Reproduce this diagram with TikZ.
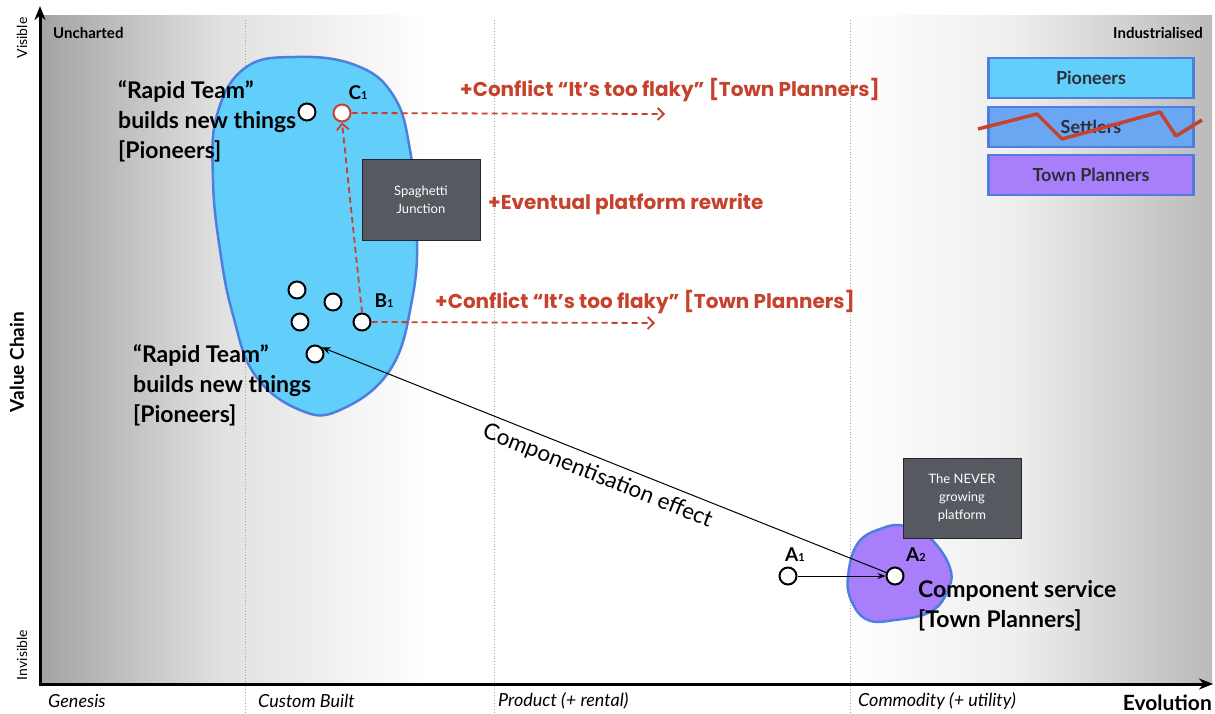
\documentclass[tikz,border=0pt]{standalone}
\usepackage{fontspec}
\setmainfont{Lato}
\newfontfamily\handfont{Poppins}
\usetikzlibrary{arrows.meta,positioning,calc}
\definecolor{pioneerblue}{RGB}{98,207,251}
\definecolor{settlerblue}{RGB}{106,166,242}
\definecolor{plannerpurple}{RGB}{168,126,250}
\definecolor{blobedge}{RGB}{77,127,224}
\definecolor{flakyred}{RGB}{198,66,44}
\definecolor{boxgray}{RGB}{86,89,95}
\definecolor{legendtext}{RGB}{45,45,60}

\begin{document}
\begin{tikzpicture}[x=1pt, y=-1pt,
    dot/.style={circle, draw=black, fill=white, line width=2pt, minimum size=17pt, inner sep=0pt},
    reddot/.style={dot, draw=flakyred},
    tag/.style={font=\bfseries\fontsize{19}{19}\selectfont, inner sep=1pt},
    conflict/.style={draw=flakyred, line width=1.8pt, dash pattern=on 6pt off 4pt, -{Straight Barb[length=6pt,width=12pt]}},
    flaky/.style={text=flakyred, font=\handfont\bfseries\fontsize{20}{22}\selectfont, inner sep=0pt, anchor=west},
    darkbox/.style={draw=black!85, line width=1pt, fill=boxgray, text=white, align=center, font=\fontsize{13}{18}\selectfont},
    teamtext/.style={align=left, anchor=north west, font=\bfseries\fontsize{23}{30}\selectfont, inner sep=0pt},
    legendbox/.style={draw=blobedge, line width=2.2pt, minimum width=205pt, minimum height=40pt, text=legendtext, font=\bfseries\fontsize{18}{20}\selectfont},
    stage/.style={font=\itshape\fontsize{18}{18}\selectfont, anchor=west, inner sep=0pt},
    guide/.style={draw=black!35, dotted, line width=0.8pt}
  ]
  \useasboundingbox (0,0) rectangle (1215,713);
  % Map background (shaded edges)
  \shade[left color=black!36, right color=black!12] (40,15) rectangle (220,684);
  \shade[left color=black!12, right color=white] (220,15) rectangle (430,684);
  \shade[left color=white, right color=black!7] (850,15) rectangle (1020,684);
  \shade[left color=black!7, right color=black!27] (1020,15) rectangle (1212,684);
  % Evolution stage guides
  \foreach \gx in {245,494,850} \draw[guide] (\gx,20) -- (\gx,713);
  % Axes
  \draw[line width=3pt, -{Stealth[length=14pt,width=11pt]}] (40,686) -- (40,6);
  \draw[line width=3pt, -{Stealth[length=14pt,width=11pt]}] (39,684) -- (1213,684);
  \node[rotate=90, font=\fontsize{14}{14}\selectfont] (visible) at (22,38) {Visible};
  \node[rotate=90, font=\fontsize{14}{14}\selectfont] (invisible) at (22,655) {Invisible};
  \node[rotate=90, font=\bfseries\fontsize{19}{20}\selectfont] (valuechain) at (17,362) {Value Chain};
  \node[anchor=west, font=\bfseries\fontsize{15}{15}\selectfont, inner sep=0pt] (uncharted) at (53,33) {Uncharted};
  \node[anchor=east, font=\bfseries\fontsize{15}{15}\selectfont, inner sep=0pt] (industrial) at (1203,33) {Industrialised};
  \node[stage] (genesis) at (48,701) {Genesis};
  \node[stage] (custom) at (258,701) {Custom Built};
  \node[stage] (product) at (498,701) {Product (+ rental)};
  \node[stage] (commodity) at (858,701) {Commodity (+ utility)};
  \node[anchor=east, font=\bfseries\fontsize{21}{21}\selectfont, inner sep=0pt] (evolution) at (1212,703) {Evolution};

  % Pioneer blob
  \draw[blobedge, line width=2.5pt, fill=pioneerblue] plot[smooth cycle, tension=0.7] coordinates {
    (295,57) (355,65) (393,95) (410,150) (417,230) (412,300) (390,370) (340,410)
    (300,410) (255,375) (233,315) (220,250) (213,180) (217,115) (245,68)};
  % Town planner blob
  \draw[blobedge, line width=2.5pt, fill=plannerpurple] plot[smooth cycle, tension=0.7] coordinates {
    (848,577) (858,543) (883,528) (905,526) (930,538) (950,568) (947,592)
    (930,612) (895,620) (868,620) (852,602)};

  % Boxes
  \node[darkbox, minimum width=118pt, minimum height=81pt] (spaghetti) at (421,200) {Spaghetti\\Junction};
  \node[darkbox, minimum width=118pt, minimum height=80pt] (never) at (962,498) {The NEVER\\growing\\platform};

  % Components
  \node[dot] (p0) at (307,112) {};
  \node[reddot] (c1) at (342,113) {};
  \node[dot] (p1) at (297,290) {};
  \node[dot] (p2) at (333,302) {};
  \node[dot] (p3) at (300,322) {};
  \node[dot] (b1) at (362,322) {};
  \node[dot] (p4) at (315,354) {};
  \node[dot] (a1) at (788,576) {};
  \node[dot] (a2) at (895,576) {};
  \node[tag] (c1lbl) at (358,93) {C{\fontsize{11}{11}\selectfont 1}};
  \node[tag] (b1lbl) at (384,301) {B{\fontsize{11}{11}\selectfont 1}};
  \node[tag] (a1lbl) at (795,555) {A{\fontsize{11}{11}\selectfont 1}};
  \node[tag] (a2lbl) at (916,555) {A{\fontsize{11}{11}\selectfont 2}};

  % Team labels
  \node[teamtext] (rapidtop) at (118,80) {“Rapid Team”\\builds new things\\{[Pioneers]}};
  \node[teamtext] (rapidlow) at (133,344) {“Rapid Team”\\builds new things\\{[Pioneers]}};
  \node[teamtext, font=\bfseries\fontsize{23}{30}\selectfont] (component) at (918,580) {Component service\\{[Town Planners]}};

  % Conflict arrows
  \coordinate (c1end) at (665,114);
  \coordinate (b1end) at (655,323);
  \draw[conflict] (c1.east) -- (c1end);
  \draw[conflict] (b1.east) -- (b1end);
  \draw[conflict] (b1.north) -- (c1.south);
  \node[flaky] (conflicttop) at (460,90) {+Conflict “It’s too flaky” [Town Planners]};
  \node[flaky] (conflictlow) at (435,302) {+Conflict “It’s too flaky” [Town Planners]};
  \node[flaky] (rewrite) at (488,204) {+Eventual platform rewrite};

  % Componentisation
  \draw[line width=1pt, {Stealth[length=9pt,width=7pt]}-] (p4.north east) -- node[sloped, below=7pt, font=\fontsize{22.5}{23}\selectfont, inner sep=0pt] (compeffect) {Componentisation effect} (a2);
  \draw[line width=1pt, -{Stealth[length=8pt,width=6pt]}] (a1) -- (a2);

  % Legend
  \node[legendbox, fill=pioneerblue] (legpio) at (1091,78) {Pioneers};
  \node[legendbox, fill=settlerblue] (legset) at (1091,127) {Settlers};
  \node[legendbox, fill=plannerpurple] (legtown) at (1091,175) {Town Planners};
  \draw[flakyred, line width=3.5pt, line join=round] (978,129) -- (1037,114) -- (1062,139) -- (1160,112) -- (1176,136) -- (1202,120);
\end{tikzpicture}
\end{document}
